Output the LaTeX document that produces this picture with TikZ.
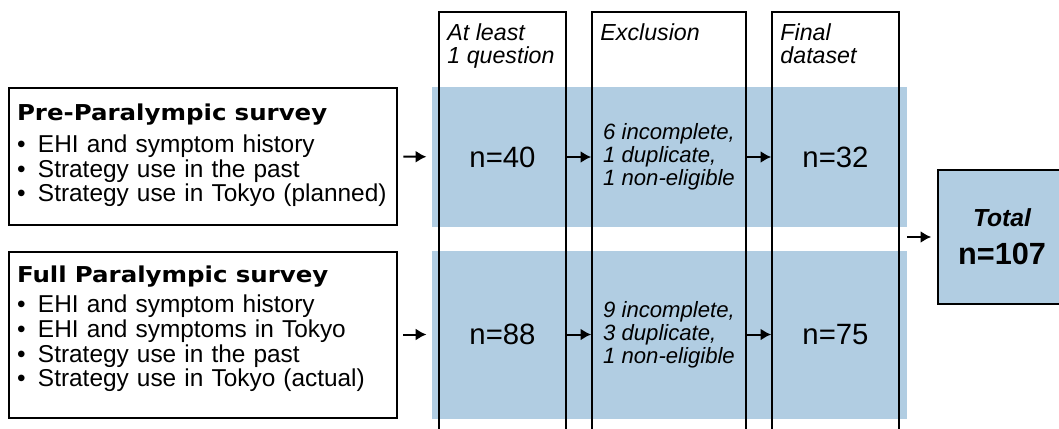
\documentclass[tikz,border=0pt]{standalone}
\usepackage{fontspec}
\setmainfont{Liberation Sans}
\newfontfamily\titlefont{DejaVu Sans}[FakeStretch=1.12]
\usepackage{tikz}
\usetikzlibrary{arrows.meta}
\definecolor{bandblue}{RGB}{177,205,226}
\newcommand{\bul}{\makebox[15.75pt][l]{\textbullet}}
\newcommand{\surveyhead}[1]{{\titlefont\bfseries\fontsize{16.4pt}{18pt}\selectfont #1}}

\begin{document}
\begin{tikzpicture}[x=0.75pt, y=-0.75pt,
    band/.style={fill=bandblue, inner sep=0pt, minimum width=356.25pt},
    survey/.style={draw, line width=1.5pt, inner sep=0pt, minimum width=291pt,
        text width=279pt, align=left, font=\fontsize{18.3pt}{18.5pt}\selectfont},
    column/.style={draw, line width=1.2pt, inner sep=0pt, minimum height=321pt},
    head/.style={anchor=north west, inner sep=0pt, xshift=6.75pt, yshift=-9pt,
        align=left, font=\fontsize{17.4pt}{17.25pt}\itshape\selectfont},
    count/.style={font=\fontsize{22pt}{26pt}\selectfont},
    excl/.style={align=left, font=\fontsize{16.6pt}{17.25pt}\itshape\selectfont},
    arr/.style={-{Latex[length=8pt,width=9pt]}, line width=1.5pt}]
    \useasboundingbox (0,0) rectangle (1059,428);

    \node[band, minimum height=105pt] (bandA) at (669.5,157) {};
    \node[band, minimum height=126pt] (bandB) at (669.5,334.5) {};

    \node[column, minimum width=95.25pt, label={[head]north west:{At least\\1 question}}] (colQ) at (502.5,226) {};
    \node[column, minimum width=115.5pt, label={[head]north west:{Exclusion}}] (colX) at (669,226) {};
    \node[column, minimum width=95.25pt, label={[head]north west:{Final\\dataset}}] (colF) at (835.5,226) {};

    \node[survey, minimum height=102.75pt] (pre) at (203,156.5)
        {\surveyhead{Pre-Paralympic survey}\\[5.6pt]
         \bul EHI and symptom history\\
         \bul Strategy use in the past\\
         \bul Strategy use in Tokyo (planned)\rule[-5.7pt]{0pt}{0pt}};
    \node[survey, minimum height=124.5pt] (full) at (203,334.5)
        {\surveyhead{Full Paralympic survey}\\[4.1pt]
         \bul EHI and symptom history\\
         \bul EHI and symptoms in Tokyo\\
         \bul Strategy use in the past\\
         \bul Strategy use in Tokyo (actual)\rule[-12pt]{0pt}{0pt}};

    \node[count] (nA) at (502.5,157) {n=40};
    \node[count] (nB) at (502.5,334.5) {n=88};
    \node[excl] (exA) at (669,157) {6 incomplete,\\1 duplicate,\\1 non-eligible};
    \node[excl] (exB) at (669,334.5) {9 incomplete,\\3 duplicate,\\1 non-eligible};
    \node[count] (fA) at (835.5,157) {n=32};
    \node[count] (fB) at (835.5,334.5) {n=75};

    \node[draw, fill=bandblue, line width=1.2pt, inner sep=0pt, minimum width=96pt,
        minimum height=100.5pt, align=center, font=\fontsize{23pt}{28.5pt}\bfseries\selectfont]
        (total) at (1002,237) {{\fontsize{18.5pt}{20pt}\selectfont\itshape Total}\\n=107};

    % arrows
    \draw[arr, shorten <=4pt, shorten >=4pt] (pre) -- (bandA);
    \draw[arr, shorten <=4pt, shorten >=4pt] (full) -- (bandB);
    \draw[arr] (colQ.east |- nA) -- (colX.west |- nA);
    \draw[arr] (colQ.east |- nB) -- (colX.west |- nB);
    \draw[arr] (colX.east |- fA) -- (colF.west |- fA);
    \draw[arr] (colX.east |- fB) -- (colF.west |- fB);
    \draw[arr, shorten >=4.5pt] (bandA.east |- total) -- (total);
\end{tikzpicture}
\end{document}
